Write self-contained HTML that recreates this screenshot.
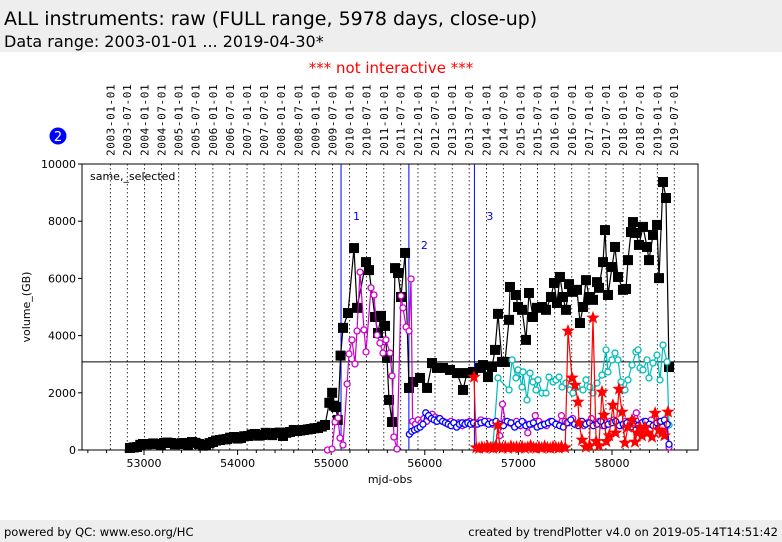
<!DOCTYPE html>
<html><head><meta charset="utf-8"><style>
html,body{margin:0;padding:0;background:#fff;}
body{width:782px;height:542px;overflow:hidden;position:relative;font-family:"DejaVu Sans","Liberation Sans",sans-serif;}
svg{position:absolute;left:0;top:0;}
</style></head><body>
<svg id="chart" width="782" height="542" viewBox="0 0 782 542">
<rect x="0" y="0" width="782" height="52" fill="#eeeeee"/>
<text x="4" y="25" font-size="19" fill="#000">ALL instruments: raw (FULL range, 5978 days, close-up)</text>
<text x="4" y="47" font-size="16" fill="#000">Data range: 2003-01-01 ... 2019-04-30*</text>
<text x="391" y="73" font-size="15" fill="#ff0000" text-anchor="middle">*** not interactive ***</text>
<rect x="0" y="520" width="782" height="22" fill="#eeeeee"/>
<text x="4" y="536" font-size="11.5" fill="#000">powered by QC: www.eso.org/HC</text>
<text x="778" y="536" font-size="11.5" fill="#000" text-anchor="end">created by trendPlotter v4.0 on 2019-05-14T14:51:42</text>
<circle cx="58" cy="136" r="8.5" fill="#0000ff"/>
<text x="58" y="141" font-size="13" fill="#fff" text-anchor="middle">2</text>
<g id="plot"></g>
</svg>
<script>
const blackMjd=[52850,52890,52925,52960,52989,53030,53064,53100,53139,53180,53214,53250,53288,53330,53363,53400,53438,53470,53513,53550,53588,53630,53662,53700,53737,53770,53812,53850,53887,53920,53962,54000,54036,54070,54111,54150,54186,54220,54261,54300,54336,54370,54410,54450,54485,54520,54560,54600,54635,54670,54709,54750,54784,54820,54859,54900,54934,54980,55010,55030,55050,55070,55100,55126,55180,55244,55276,55372,55404,55468,55500,55532,55575,55596,55618,55650,55682,55714,55746,55789,55831,55874,55949,56024,56077,56130,56195,56269,56344,56408,56451,56515,56590,56622,56675,56718,56750,56782,56825,56857,56900,56910,56974,56996,57039,57081,57113,57156,57199,57252,57295,57348,57380,57412,57444,57476,57508,57541,57573,57626,57658,57690,57722,57754,57797,57840,57861,57904,57925,57957,58000,58032,58064,58117,58150,58171,58203,58224,58256,58288,58331,58374,58395,58438,58481,58502,58545,58577,58609];
const blackVal=[70,90,105,180,210,200,210,230,210,190,245,260,245,200,210,240,245,170,280,250,210,150,175,240,280,330,350,370,385,430,455,400,420,480,490,540,560,500,525,600,560,520,595,610,490,600,630,700,665,680,700,720,735,760,770,820,875,1650,2000,1550,1500,1050,3300,4270,4790,7060,4970,6570,6290,4650,4090,4690,4340,3220,1750,980,6360,6190,5350,6890,2170,2380,2520,2170,3040,2870,2870,2800,2690,2100,2690,2730,2870,2970,2550,2900,3500,4760,3080,3080,4550,5700,5420,5000,4900,3850,5490,4650,4970,5000,4900,5350,5840,5140,6050,5350,4900,5800,5530,5600,4440,5000,5940,5350,5250,5870,5670,6570,7690,5420,6400,7100,6050,5600,5630,6640,7620,7970,7590,7170,7800,7100,6640,7520,7870,6010,9370,8810,2900];
const magMjd=[54960,55009,55041,55073,55094,55126,55170,55190,55222,55254,55276,55308,55350,55372,55425,55457,55490,55521,55553,55585,55628,55650,55670,55703,55746,55767,55800,55832,55853,55870,55900,55930,55960,55990,56020,56050,56080,56110,56140,56170,56200,56240,56280,56320,56360,56400,56440,56480,56520,56560,56600,56640,56680,56720,56760,56800,56830,56860,56900,56940,56980,57020,57060,57100,57140,57180,57220,57260,57300,57340,57380,57420,57460,57500,57540,57580,57620,57660,57700,57740,57780,57820,57860,57900,57940,57980,58020,58060,58100,58140,58180,58220,58260,58300,58340,58380,58420,58460,58500,58540,58570,58609];
const magVal=[0,35,980,1120,420,175,2310,3360,3850,3010,4160,6220,4200,3430,5670,5420,4020,3740,3390,3850,3390,2590,455,35,5390,4970,4300,4160,5980,1000,900,1050,950,1100,1000,1150,1250,1150,1100,1050,1000,950,1000,900,950,850,950,1000,900,950,1050,950,1000,900,950,500,1600,1000,950,900,1000,850,950,600,900,1200,1000,900,850,1000,950,900,1200,1000,950,1100,900,1000,850,950,1100,900,1000,850,950,1000,1050,900,850,1000,950,1050,1300,900,1000,950,1050,900,1000,800,1000,100];
const blueMjd=[55835,55860,55890,55920,55950,55980,56010,56040,56070,56100,56130,56160,56190,56220,56250,56280,56310,56340,56370,56400,56430,56460,56490,56520,56560,56600,56640,56680,56720,56760,56800,56840,56880,56920,56960,57000,57040,57080,57120,57160,57200,57240,57280,57320,57360,57400,57440,57480,57520,57560,57600,57640,57680,57720,57760,57800,57840,57880,57920,57960,58000,58040,58080,58120,58160,58200,58240,58280,58320,58360,58400,58440,58480,58520,58560,58590,58609];
const blueVal=[550,650,700,750,800,900,1300,1200,1100,1050,1000,1100,1000,950,900,850,950,800,900,950,900,950,900,950,900,950,1000,900,950,1000,900,850,1000,950,800,900,1000,850,900,950,800,850,900,950,1000,900,850,800,950,1050,900,850,1000,900,950,850,900,1000,850,900,950,1000,850,900,950,800,900,850,950,1000,900,850,950,1000,1050,900,200];
const cyanMjd=[56729,56782,56900,56932,56974,56996,57039,57049,57092,57124,57156,57188,57209,57252,57295,57327,57370,57402,57434,57466,57508,57551,57583,57626,57690,57722,57765,57797,57840,57893,57936,57957,58000,58032,58064,58096,58139,58171,58214,58256,58278,58299,58331,58374,58395,58438,58481,58513,58545,58588,58609];
const cyanVal=[175,2520,2100,3150,2520,2800,2200,2730,1750,2690,2380,2100,2450,1990,1990,2550,2380,2450,2550,2200,2340,2100,1990,2200,2100,2450,2200,1990,2340,2620,3500,2730,3150,3390,3150,2380,2100,2450,2970,3430,3500,2870,2800,3150,2520,3040,3320,2450,3670,3080,875];
const redMjd=[56526,56550,56580,56610,56640,56670,56700,56730,56760,56782,56800,56830,56860,56890,56920,56950,56980,57010,57040,57070,57100,57130,57160,57190,57220,57250,57280,57310,57340,57370,57400,57430,57460,57500,57530,57573,57605,57637,57648,57680,57720,57760,57797,57830,57860,57893,57914,57940,57970,58010,58040,58075,58107,58139,58170,58214,58246,58270,58299,58320,58352,58380,58427,58460,58500,58534,58560,58598];
const redVal=[2550,80,60,100,70,120,80,60,150,875,90,70,110,60,130,80,100,70,120,60,90,150,80,60,100,70,130,80,60,110,90,70,120,80,4160,2520,2270,1680,945,350,100,150,4620,300,150,2030,1220,300,500,1570,600,2130,1330,245,800,1050,280,600,800,500,800,600,455,1290,700,595,500,1330];
const yTicks=[0,2000,4000,6000,8000,10000];
const xTicks=[53000,54000,55000,56000,57000,58000];
const eventMjd=[55105,55830,56530];
const eventLabels=["1","2","3"];
const refLevel=3080;

const NS="http://www.w3.org/2000/svg";
const L=82,R=698,T=164,B=450;
const X=m=>144+(m-53000)*0.0936;
const Y=v=>B-(v/10000)*(B-T);
const g=document.getElementById('plot');
function mk(tag,attrs,parent){const e=document.createElementNS(NS,tag);for(const k in attrs)e.setAttribute(k,attrs[k]);(parent||g).appendChild(e);return e;}

for(let y=2003;y<=2019;y++){for(const mo of [0,6]){
  const mjd=Date.UTC(y,mo,1)/86400000+40587;const x=X(mjd);
  const ln=mk('line',{x1:x,x2:x,y1:T,y2:B,stroke:'#000','stroke-width':0.8,'stroke-dasharray':'1.5,2.5'});
  
  
  const t=mk('text',{x:0,y:0,'font-size':11,'font-family':'"DejaVu Sans Mono","Liberation Mono",monospace','letter-spacing':'0.6',transform:`translate(${x+4},156) rotate(-90)`});
  t.textContent=`${y}-${mo?'07':'01'}-01`;
  
  
}}
const fr=mk('rect',{x:L,y:T,width:R-L,height:B-T,fill:'none',stroke:'#000','stroke-width':1});


yTicks.forEach(v=>{const y=Y(v);
  mk('line',{x1:L-4,x2:L,y1:y,y2:y,stroke:'#000'});
  const t=mk('text',{x:L-6,y:y+4,'font-size':11,'text-anchor':'end'});t.textContent=v;
  
  
});
for(let m=52400;m<=58800;m+=200){const x=X(m);if(x<L||x>R)continue;const major=m%1000===0;
  mk('line',{x1:x,x2:x,y1:B,y2:B+(major?5:3),stroke:'#000'});}
xTicks.forEach(m=>{const t=mk('text',{x:X(m),y:B+17,'font-size':11,'text-anchor':'middle'});t.textContent=m;
  
  });
let t=mk('text',{x:390,y:483,'font-size':11,'text-anchor':'middle'});t.textContent='mjd-obs';


t=mk('text',{x:0,y:0,'font-size':11,'text-anchor':'middle',transform:'translate(30,307) rotate(-90)'});t.textContent='volume_(GB)';


t=mk('text',{x:90,y:180,'font-size':11});t.textContent='same,_selected';


eventMjd.forEach((m,i)=>{const x=X(m);
  const ln=mk('line',{x1:x,x2:x,y1:T,y2:B,stroke:'#0000ff','stroke-width':1});
  
  
  const tt=mk('text',{x:x+12,y:i===1?249:220,'font-size':11,fill:'#0000ff'});tt.textContent=eventLabels[i];
  
  
});
const rl=mk('line',{x1:L,x2:R,y1:Y(refLevel),y2:Y(refLevel),stroke:'#000','stroke-width':1});



function star(cx,cy,r){let p=[];for(let i=0;i<10;i++){const a=-Math.PI/2+i*Math.PI/5;const rr=i%2?r*0.42:r;p.push((cx+rr*Math.cos(a)).toFixed(1)+','+(cy+rr*Math.sin(a)).toFixed(1));}return p.join(' ');}
function series(mj,vals,color,marker,name){
  const sg=mk('g',{});
  
  
  const pts=mj.map((m,i)=>X(m).toFixed(1)+','+Y(vals[i]).toFixed(1)).join(' ');
  const pl=mk('polyline',{points:pts,fill:'none',stroke:color,'stroke-width':1.2},sg);
  
  
  mj.forEach((m,i)=>{const x=X(m),y=Y(vals[i]);let e;
    if(marker==='sq')e=mk('rect',{x:x-5,y:y-5,width:10,height:10,fill:color},sg);
    else if(marker==='star')e=mk('polygon',{points:star(x,y,7),fill:color},sg);
    else e=mk('circle',{cx:x,cy:y,r:3,fill:'#fff',stroke:color,'stroke-width':1.3},sg);
    
    
  });
}
series(blackMjd,blackVal,'#000','sq','black');
series(magMjd,magVal,'#cc00cc','circ','magenta');
series(cyanMjd,cyanVal,'#00bbbb','circ','cyan');
series(blueMjd,blueVal,'#0000ff','circ','blue');
series(redMjd,redVal,'#ff0000','star','red');
</script>
</body></html>
